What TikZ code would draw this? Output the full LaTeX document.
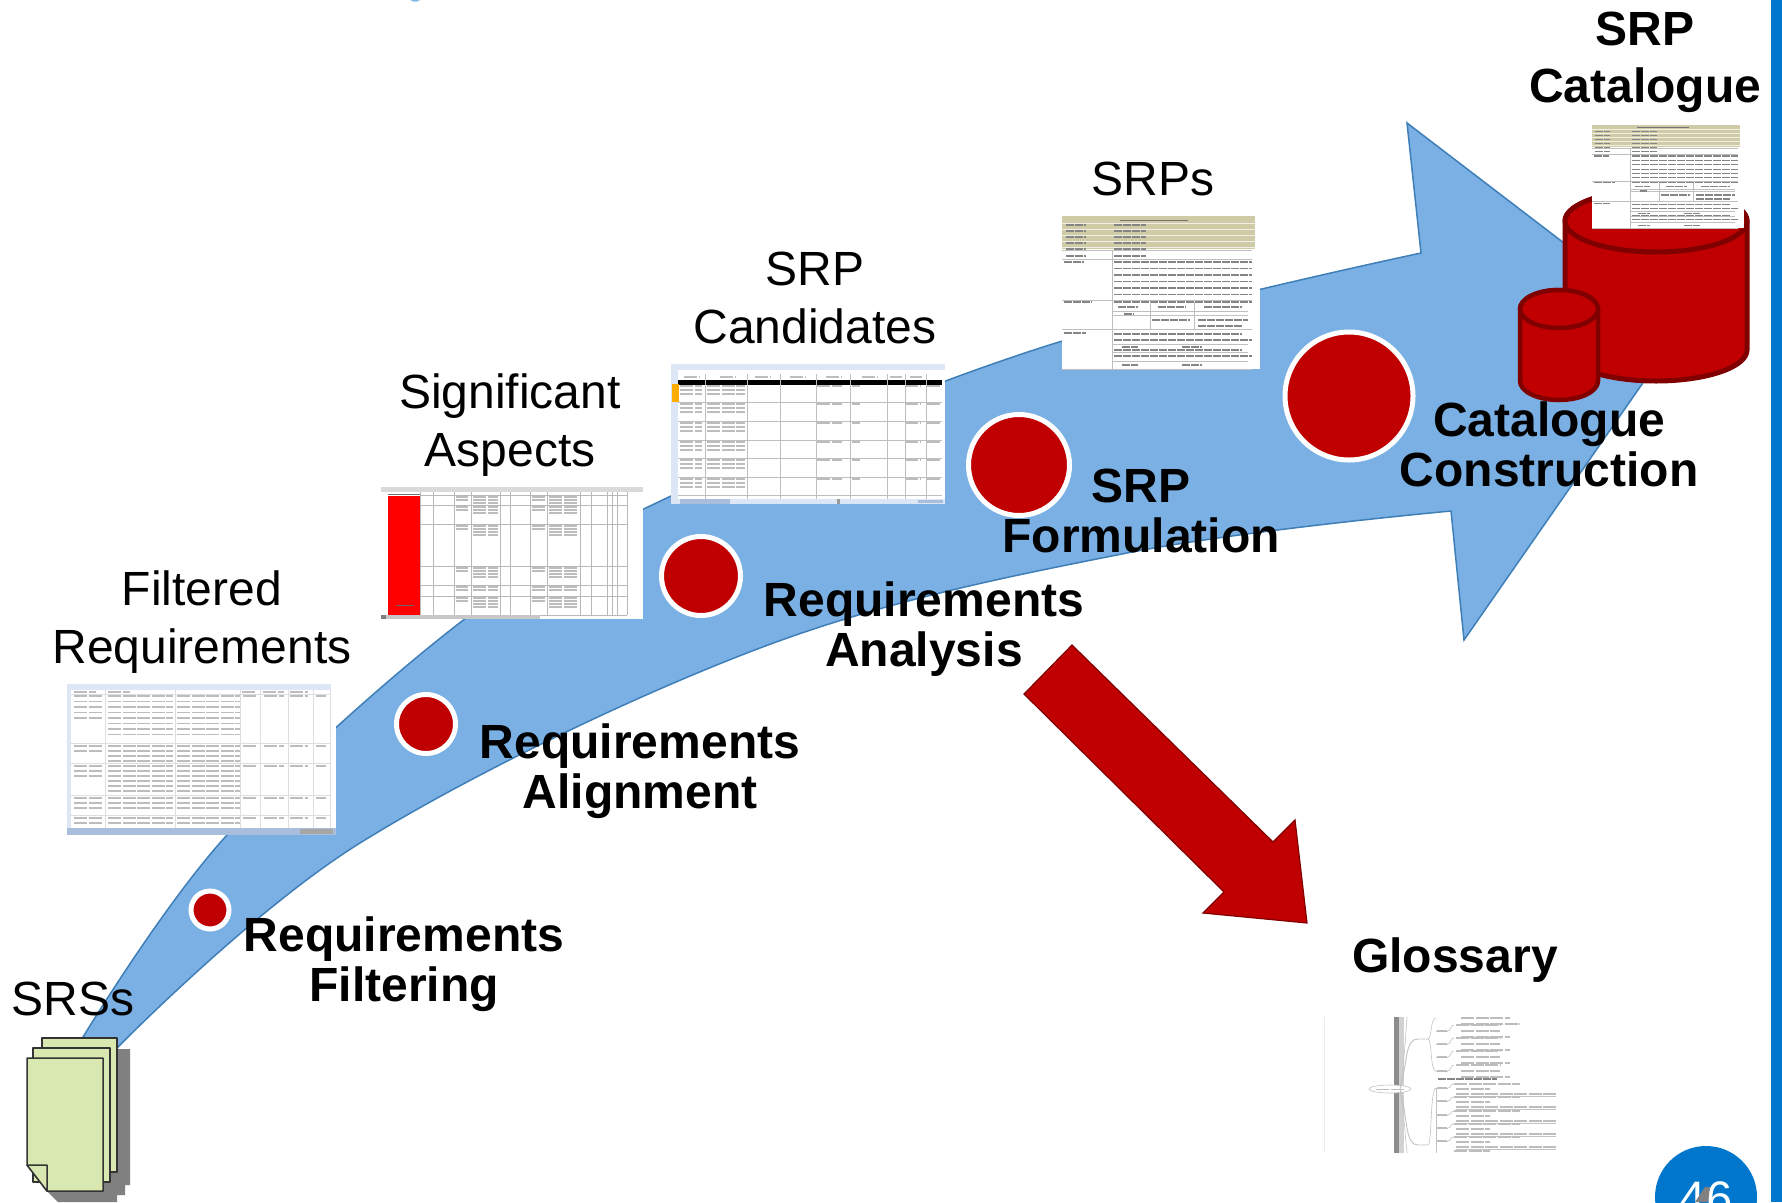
\documentclass[tikz,border=0pt]{standalone}
\usepackage{fontspec}
\setmainfont{Liberation Sans}
\definecolor{bluearrow}{HTML}{7AB0E4}
\definecolor{blueedge}{HTML}{3F7FB8}
\definecolor{deepred}{HTML}{C00000}
\definecolor{darkred}{HTML}{800000}
\definecolor{slideblue}{HTML}{0077CC}
\definecolor{docgreen}{HTML}{D8E8B0}
\definecolor{beige}{HTML}{CFCBA6}
\definecolor{xlhead}{HTML}{DCE6F4}
\definecolor{xlbar}{HTML}{A9BEDD}
\tikzset{
  bigtext/.style={font=\fontsize{48}{58}\selectfont,align=center,inner sep=0pt,text=black},
  boldtext/.style={font=\fontsize{48}{50}\selectfont\bfseries,align=center,inner sep=0pt,text=black},
  dot/.style={circle,fill=deepred,draw=white,line width=5pt,inner sep=0pt},
  cyl/.style={fill=deepred,draw=darkred,line width=5pt,line join=round},
  docsheet/.style={fill=docgreen,draw=black!80,line width=1.5pt,line join=round},
  gridline/.style={draw=black!13,line width=.7pt},
  txtbar/.style={draw=black!26,line width=1.2pt,dash pattern=on 13pt off 1.5pt},
  darkbar/.style={draw=black!48,line width=1.1pt,dash pattern=on 8pt off 1pt},
  mapline/.style={draw=black!24,line width=.6pt},
}
\newcommand\txtblock[6][txtbar]{\foreach \i in {1,...,#5}{\pgfmathsetmacro\yy{#4+(\i-1)*#6}\draw[#1] (#2,\yy) -- (#3,\yy);}}
\newcommand\srpsheet{%
  \fill[white] (0,0) rectangle (198,153);
  \fill[beige] (0,0) rectangle (193,33);
  \foreach \y in {7,13,19,25,31}{\draw[white!70!beige,line width=.8pt] (0,\y) -- (193,\y);}
  \draw[black!55,line width=1pt] (58,4) -- (126,4);
  \foreach \y in {9,15,21,27,33,40}{\draw[darkbar] (4,\y) -- (24,\y); \draw[darkbar] (52,\y) -- (84,\y);}
  \txtblock[darkbar]{52}{190}{46}{6}{6.5}
  \txtblock[darkbar]{52}{190}{86}{1}{6}
  \draw[darkbar] (2,46) -- (22,46); \draw[darkbar] (2,86) -- (30,86); \draw[darkbar] (2,117) -- (24,117);
  \foreach \y in {34,43,84,113,153}{\draw[gridline,draw=black!25] (0,\y) -- (190,\y);}
  \foreach \y in {95,99,113,128,136,145}{\draw[gridline,draw=black!25] (50,\y) -- (186,\y);}
  \draw[gridline,draw=black!25] (50,34) -- (50,153);
  \draw[gridline,draw=black!25] (88,86) -- (88,113); \draw[gridline,draw=black!25] (132,86) -- (132,113);
  \draw[darkbar] (56,91) -- (76,91); \draw[darkbar] (96,91) -- (124,91); \draw[darkbar] (142,91) -- (180,91);
  \draw[darkbar] (62,98) -- (72,98); \draw[darkbar] (90,104) -- (128,104); \draw[darkbar] (136,104) -- (186,104);
  \draw[darkbar] (136,110) -- (180,110);
  \foreach \y in {118,134}{\draw[darkbar] (52,\y) -- (180,\y);}
  \foreach \y in {124,140}{\draw[darkbar] (52,\y) -- (190,\y);}
  \foreach \y in {131,149}{\draw[darkbar] (60,\y) -- (76,\y); \draw[darkbar] (120,\y) -- (140,\y);}
}
\begin{document}
\begin{tikzpicture}[x=1pt,y=-1pt]
\useasboundingbox (0,0) rectangle (1782,1202);
\clip (0,0) rectangle (1782,1202);
\fill[white] (0,0) rectangle (1782,1202);

% remnants at the borders of the slide
\fill[slideblue] (1771,0) rectangle (1782,1202);
\fill[slideblue!50] (410,0) -- (420,0) -- (417,1.5) -- (413,1.5) -- cycle;
\fill[slideblue] (1706,1197) circle[radius=51pt];
\node[font=\fontsize{47}{47}\selectfont,text=white,inner sep=0pt,anchor=base] (page) at (1706,1214) {46};
\fill[black!50] (1695,1202) -- (1705,1187) -- (1710,1187) -- (1708,1202) -- cycle;

% large process arrow
\draw[fill=bluearrow,draw=blueedge,line width=1.5pt,line join=miter]
  plot[smooth,tension=.6] coordinates {(83,1037) (227,835) (466,618) (671,496) (1040,348) (1421,253)}
  -- (1407,123) -- (1679,331) -- (1464,640) -- (1451,511)
  -- plot[smooth,tension=.6] coordinates {(1451,511) (1127,553) (760,648) (360,843) (118,1047)}
  -- cycle;

% red arrow to the glossary
\draw[fill=deepred,draw=darkred,line width=1.2pt,line join=miter]
  (1072,645) -- (1024,694) -- (1224,892) -- (1203,913) -- (1307,923) -- (1295,820) -- (1273,842) -- cycle;

% Filtered requirements sheet
\begin{scope}
  \fill[white] (67,684) rectangle (336,835);
  \fill[xlhead] (67,684) rectangle (331,690);
  \fill[xlhead] (67,684) rectangle (71,830);
  \fill[xlbar] (67,828) rectangle (336,835);
  \fill[black!35] (300,829) rectangle (333,834);
  \foreach \x in {105,175,240,260,288,313,330}{\draw[gridline] (\x,690) -- (\x,828);}
  \foreach \y in {694,743,763,795,815}{\draw[gridline] (71,\y) -- (331,\y);}
  \foreach \y in {692}{\draw[txtbar] (74,\y) -- (96,\y); \draw[txtbar] (108,\y) -- (130,\y); \draw[txtbar] (242,\y) -- (256,\y); \draw[txtbar] (263,\y) -- (284,\y); \draw[txtbar] (290,\y) -- (308,\y);}
  \txtblock{74}{102}{696}{5}{5.5}
  \txtblock{108}{173}{696}{8}{5.5}
  \txtblock{177}{240}{696}{8}{5.5}
  \txtblock{74}{102}{746}{2}{5}
  \txtblock{108}{173}{746}{4}{5}
  \txtblock{177}{240}{746}{4}{5}
  \txtblock{74}{102}{766}{3}{5}
  \txtblock{108}{173}{766}{6}{5}
  \txtblock{177}{240}{766}{6}{5}
  \txtblock{74}{102}{798}{3}{5}
  \txtblock{108}{173}{798}{3}{5}
  \txtblock{177}{240}{798}{3}{5}
  \txtblock{74}{102}{818}{2}{5}
  \txtblock{108}{173}{818}{2}{5}
  \txtblock{177}{240}{818}{2}{5}
  \foreach \y in {696,746,766,798,818}{\draw[txtbar] (243,\y) -- (256,\y); \draw[txtbar] (264,\y) -- (284,\y); \draw[txtbar] (290,\y) -- (308,\y); \draw[txtbar] (316,\y) -- (326,\y);}
\end{scope}

% Significant aspects sheet
\begin{scope}
  \fill[white] (381,487) rectangle (643,619);
  \fill[black!15] (381,487) rectangle (643,492);
  \fill[red] (388,496) rectangle (420,615);
  \draw[black!55,line width=1pt] (388,494) -- (420,494);
  \draw[black!60,line width=.8pt] (396,605) -- (414,605);
  \foreach \x in {420,433,454,471,500,510,530,547,580,591,607,612,617,627}{\draw[gridline,draw=black!28] (\x,492) -- (\x,615);}
  \foreach \y in {495,505,524,566,585,596,615}{\draw[gridline,draw=black!28] (420,\y) -- (627,\y);}
  \foreach \y/\n in {497/3,507/3,526/4,568/4,587/2,598/4}{
    \txtblock{473}{498}{\y}{\n}{3}
    \txtblock{549}{578}{\y}{\n}{3}
    \txtblock{456}{468}{\y}{2}{3}
    \txtblock{532}{545}{\y}{2}{3}
  }
  \fill[black!22] (381,615) rectangle (540,619);
  \fill[black!50] (381,615) rectangle (386,619);
\end{scope}

% SRP candidates sheet
\begin{scope}
  \fill[white] (671,364) rectangle (945,504);
  \fill[xlhead] (671,364) rectangle (945,370);
  \fill[xlhead] (671,364) rectangle (678,500);
  \fill[black] (678,380) rectangle (942,384.5);
  \fill[orange!65!yellow] (672,384) rectangle (679,402);
  \foreach \x in {705,747,780,816,850,887,905,926}{\draw[gridline,draw=black!25] (\x,374) -- (\x,499);}
  \foreach \y in {402,421,440,458,477,495}{\draw[gridline,draw=black!25] (678,\y) -- (942,\y);}
  \foreach \x/\xx in {684/700,720/736,755/770,790/805,826/842,862/878,890/902,910/922}{\draw[txtbar] (\x,377) -- (\xx,377);}
  \foreach \y in {386,404,423,442,460,479}{
    \txtblock{680}{702}{\y}{3}{4}
    \txtblock{707}{745}{\y}{3}{4}
    \draw[txtbar] (817,\y) -- (842,\y);
    \draw[txtbar] (852,\y) -- (860,\y);
    \draw[txtbar] (905,\y) -- (920,\y);
    \draw[txtbar] (927,\y) -- (940,\y);
  }
  \fill[xlhead] (671,499) rectangle (945,504);
  \fill[xlbar] (680,499) rectangle (730,504);
  \fill[xlbar] (918,500) rectangle (943,503);
  \fill[black!40] (837,499) rectangle (840,504);
\end{scope}

% SRP sheet
\begin{scope}[shift={(1062,216)}]
  \srpsheet
\end{scope}

% Glossary sheet
\begin{scope}
  \fill[white] (1324,1017) rectangle (1566,1153);
  \draw[black!8,line width=.6pt] (1324,1017) -- (1324,1153);
  \fill[black!45] (1394,1017) rectangle (1399,1153);
  \fill[black!18] (1399,1017) rectangle (1404,1153);
  \draw[mapline] (1407,1017) .. controls (1404,1060) and (1402,1080) .. (1400,1089);
  \draw[mapline] (1407,1153) .. controls (1404,1120) and (1402,1100) .. (1400,1089);
  \draw[mapline,fill=white] (1390,1089) ellipse[x radius=21pt,y radius=4pt];
  \draw[txtbar,line width=.8pt] (1376,1089) -- (1405,1089);
  \draw[mapline,line width=.9pt] (1400,1089) .. controls (1408,1060) and (1405,1039) .. (1418,1039) -- (1428,1039);
  \draw[mapline,line width=.9pt] (1400,1089) .. controls (1408,1120) and (1405,1145) .. (1418,1145) -- (1428,1145);
  \draw[mapline] (1428,1039) .. controls (1432,1039) and (1430,1018) .. (1436,1018);
  \draw[mapline] (1428,1039) .. controls (1432,1039) and (1430,1071) .. (1436,1071);
  \draw[mapline] (1428,1145) .. controls (1432,1145) and (1430,1088) .. (1436,1088);
  \foreach \y in {1031,1044,1057,1071}{
    \draw[mapline] (1436,\y) -- (1448,\y);
    \draw[mapline] (1448,\y) .. controls (1451,\y) and (1450,\y-6) .. (1454,\y-6);
    \draw[txtbar] (1437,\y) -- (1447,\y);
    \draw[txtbar] (1456,\y-6) -- (1500,\y-6);
    \draw[txtbar] (1461,\y) -- (1500,\y);
    \draw[txtbar] (1461,\y+6) -- (1510,\y+6);
  }
  \draw[txtbar] (1461,1018) -- (1510,1018); \draw[txtbar] (1461,1024) -- (1520,1024);
  \draw[darkbar] (1438,1079) -- (1497,1079);
  \foreach \y in {1088,1101,1115,1128,1141}{
    \draw[mapline] (1436,\y) -- (1448,\y);
    \draw[mapline] (1448,\y) .. controls (1451,\y) and (1450,\y-4) .. (1454,\y-4);
    \draw[txtbar] (1437,\y) -- (1447,\y);
    \draw[txtbar] (1454,\y-4) -- (1520,\y-4);
    \draw[txtbar] (1456,\y+1) -- (1490,\y+1);
    \draw[txtbar] (1456,\y+6) -- (1556,\y+6);
    \draw[mapline] (1456,\y+8) -- (1556,\y+8);
  }
  \draw[mapline] (1436,1088) -- (1436,1153);
  \draw[txtbar] (1454,1151) -- (1490,1151);
\end{scope}

% process step markers
\node[dot,minimum size=38pt] (stepa) at (210,910) {};
\node[dot,minimum size=59pt] (stepb) at (426,724) {};
\node[dot,minimum size=79pt] (stepc) at (701,576) {};
\node[dot,minimum size=101pt] (stepd) at (1019,465) {};
\node[dot,minimum size=128pt] (stepe) at (1349,396) {};

% catalogue cylinders
\draw[cyl] (1565,221) -- (1565,350) arc[start angle=180,end angle=360,x radius=91pt,y radius=31pt] -- (1747,221) arc[start angle=0,end angle=180,x radius=91pt,y radius=31pt] -- cycle;
\draw[cyl] (1656,221) ellipse[x radius=91pt,y radius=31pt];
\begin{scope}[shift={(1592,125)},xscale=.768,yscale=.673]
  \srpsheet
\end{scope}
\draw[cyl,line width=4.5pt] (1520,309) -- (1520,381) arc[start angle=180,end angle=360,x radius=39pt,y radius=19pt] -- (1598,309) arc[start angle=0,end angle=180,x radius=39pt,y radius=19pt] -- cycle;
\draw[cyl,line width=4.5pt] (1559,309) ellipse[x radius=39pt,y radius=19pt];

% stack of SRS documents
\fill[black!50] (117,1049) -- (130,1049) -- (130,1185) -- (125,1185) -- (125,1195) -- (117,1195) -- (117,1202) -- (58,1202) -- (47,1191) -- cycle;
\draw[docsheet] (42,1038) rectangle (117,1172);
\draw[docsheet] (33,1048) rectangle (110,1182);
\draw[docsheet] (27,1058) -- (103,1058) -- (103,1191) -- (47,1191) -- (27,1165) -- cycle;
\draw[docsheet] (27,1165) -- (47,1165) -- (47,1191) -- cycle;

% labels
\node[bigtext] (lsrs) at (73,999) {SRSs};
\node[bigtext] (lfilt) at (202,622) {Filtered\\Requirements};
\node[bigtext] (lsig) at (510,425) {Significant\\Aspects};
\node[bigtext] (lcand) at (815,298) {SRP\\Candidates};
\node[bigtext] (lsrps) at (1153,179) {SRPs};
\node[boldtext,font=\fontsize{48}{57}\selectfont\bfseries] (lcat) at (1645,62) {SRP\\Catalogue};
\node[boldtext] (lreqf) at (404,964) {Requirements\\Filtering};
\node[boldtext] (lreqal) at (640,771) {Requirements\\Alignment};
\node[boldtext] (lreqan) at (924,629) {Requirements\\Analysis};
\node[boldtext] (lform) at (1141,511) {SRP\\Formulation};
\node[boldtext] (lcons) at (1549,444) {Catalogue\\Construction};
\node[boldtext] (lglos) at (1455,960) {Glossary};
\end{tikzpicture}
\end{document}
